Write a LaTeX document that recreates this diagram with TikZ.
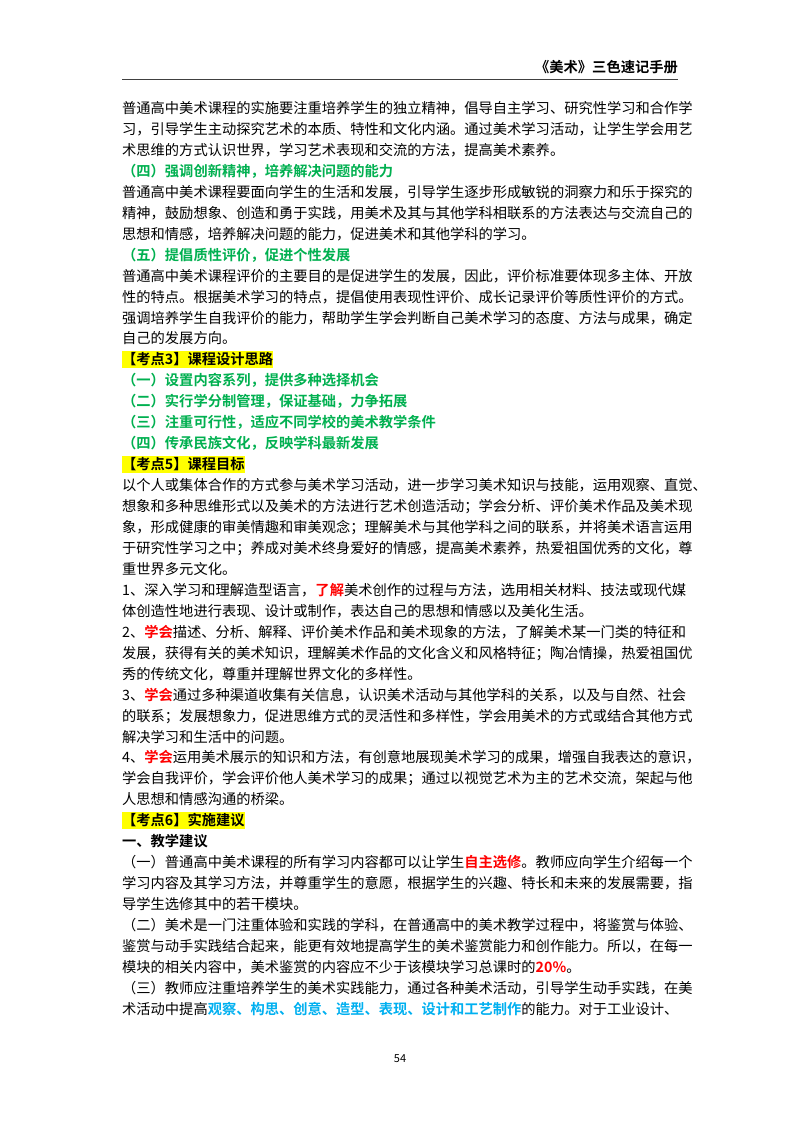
\documentclass[tikz,border=0pt]{standalone}
\usepackage{fontspec}
\setmainfont{Noto Sans CJK SC}[BoldFont={* Bold}]
\XeTeXlinebreaklocale "zh"
\XeTeXlinebreakskip=0pt plus 3pt
\definecolor{hgreen}{HTML}{00B050}
\definecolor{hred}{HTML}{FF0000}
\definecolor{hblue}{HTML}{00B0F0}
\definecolor{hyel}{HTML}{FFFF00}
\newcommand\R[1]{{\bfseries\color{hred}#1}}
\newcommand\Bl[1]{{\bfseries\color{hblue}#1}}
\newcommand\Lf[2]{\pgfmathsetmacro\yy{-(113.5+(#1-1)*20.95)}\node[txt] (l#1) at (122,\yy) {\makebox[556pt][s]{#2}};}
\newcommand\Le[2]{\pgfmathsetmacro\yy{-(113.5+(#1-1)*20.95)}\node[txt] (l#1) at (122,\yy) {#2};}
\newcommand\Lg[2]{\pgfmathsetmacro\yy{-(113.5+(#1-1)*20.95)}\node[txt,font=\fontsize{14.26}{17}\selectfont\bfseries,text=hgreen] (l#1) at (122,\yy) {#2};}
\newcommand\Lh[2]{\pgfmathsetmacro\yy{-(113.5+(#1-1)*20.95)}\node[txt,font=\fontsize{14.26}{17}\selectfont\bfseries,fill=hyel,inner ysep=2pt] (l#1) at (122,\yy) {#2};}
\begin{document}
\begin{tikzpicture}[x=1pt,y=1pt,
  txt/.style={anchor=base west,inner sep=0pt,font=\fontsize{14.26}{17}\selectfont,text=black}]
\fill[white] (0,0) rectangle (800,-1132);
\useasboundingbox (0,0) rectangle (800,-1132);
\node[anchor=base east,inner sep=0pt,font=\fontsize{14.26}{17}\selectfont\bfseries] (hdr) at (678,-73) {《美术》三色速记手册};
\coordinate (rl) at (122,-79);
\coordinate (rr) at (678,-79);
\draw[line width=1pt,black!75] (rl) -- (rr);
\Lf{1}{普通高中美术课程的实施要注重培养学生的独立精神，倡导自主学习、研究性学习和合作学}
\Lf{2}{习，引导学生主动探究艺术的本质、特性和文化内涵。通过美术学习活动，让学生学会用艺}
\Le{3}{术思维的方式认识世界，学习艺术表现和交流的方法，提高美术素养。}
\Lg{4}{（四）强调创新精神，培养解决问题的能力}
\Lf{5}{普通高中美术课程要面向学生的生活和发展，引导学生逐步形成敏锐的洞察力和乐于探究的}
\Lf{6}{精神，鼓励想象、创造和勇于实践，用美术及其与其他学科相联系的方法表达与交流自己的}
\Le{7}{思想和情感，培养解决问题的能力，促进美术和其他学科的学习。}
\Lg{8}{（五）提倡质性评价，促进个性发展}
\Lf{9}{普通高中美术课程评价的主要目的是促进学生的发展，因此，评价标准要体现多主体、开放}
\Lf{10}{性的特点。根据美术学习的特点，提倡使用表现性评价、成长记录评价等质性评价的方式。}
\Lf{11}{强调培养学生自我评价的能力，帮助学生学会判断自己美术学习的态度、方法与成果，确定}
\Le{12}{自己的发展方向。}
\Lh{13}{【考点3】课程设计思路}
\Lg{14}{（一）设置内容系列，提供多种选择机会}
\Lg{15}{（二）实行学分制管理，保证基础，力争拓展}
\Lg{16}{（三）注重可行性，适应不同学校的美术教学条件}
\Lg{17}{（四）传承民族文化，反映学科最新发展}
\Lh{18}{【考点5】课程目标}
\Lf{19}{以个人或集体合作的方式参与美术学习活动，进一步学习美术知识与技能，运用观察、直觉、}
\Lf{20}{想象和多种思维形式以及美术的方法进行艺术创造活动；学会分析、评价美术作品及美术现}
\Lf{21}{象，形成健康的审美情趣和审美观念；理解美术与其他学科之间的联系，并将美术语言运用}
\Lf{22}{于研究性学习之中；养成对美术终身爱好的情感，提高美术素养，热爱祖国优秀的文化，尊}
\Le{23}{重世界多元文化。}
\Lf{24}{1、深入学习和理解造型语言，\R{了解}美术创作的过程与方法，选用相关材料、技法或现代媒}
\Le{25}{体创造性地进行表现、设计或制作，表达自己的思想和情感以及美化生活。}
\Lf{26}{2、\R{学会}描述、分析、解释、评价美术作品和美术现象的方法，了解美术某一门类的特征和}
\Lf{27}{发展，获得有关的美术知识，理解美术作品的文化含义和风格特征；陶冶情操，热爱祖国优}
\Le{28}{秀的传统文化，尊重并理解世界文化的多样性。}
\Lf{29}{3、\R{学会}通过多种渠道收集有关信息，认识美术活动与其他学科的关系，以及与自然、社会}
\Lf{30}{的联系；发展想象力，促进思维方式的灵活性和多样性，学会用美术的方式或结合其他方式}
\Le{31}{解决学习和生活中的问题。}
\Lf{32}{4、\R{学会}运用美术展示的知识和方法，有创意地展现美术学习的成果，增强自我表达的意识，}
\Lf{33}{学会自我评价，学会评价他人美术学习的成果；通过以视觉艺术为主的艺术交流，架起与他}
\Le{34}{人思想和情感沟通的桥梁。}
\Lh{35}{【考点6】实施建议}
\Le{36}{\bfseries 一、教学建议}
\Lf{37}{（一）普通高中美术课程的所有学习内容都可以让学生\R{自主选修}。教师应向学生介绍每一个}
\Lf{38}{学习内容及其学习方法，并尊重学生的意愿，根据学生的兴趣、特长和未来的发展需要，指}
\Le{39}{导学生选修其中的若干模块。}
\Lf{40}{（二）美术是一门注重体验和实践的学科，在普通高中的美术教学过程中，将鉴赏与体验、}
\Lf{41}{鉴赏与动手实践结合起来，能更有效地提高学生的美术鉴赏能力和创作能力。所以，在每一}
\Le{42}{模块的相关内容中，美术鉴赏的内容应不少于该模块学习总课时的\R{20\%}。}
\Lf{43}{（三）教师应注重培养学生的美术实践能力，通过各种美术活动，引导学生动手实践，在美}
\Lf{44}{术活动中提高\Bl{观察、构思、创意、造型、表现、设计和工艺制作}的能力。对于工业设计、}
\node[anchor=center,inner sep=0pt,font=\fontsize{11}{13}\selectfont] (pg) at (400,-1059) {54};
\end{tikzpicture}
\end{document}
